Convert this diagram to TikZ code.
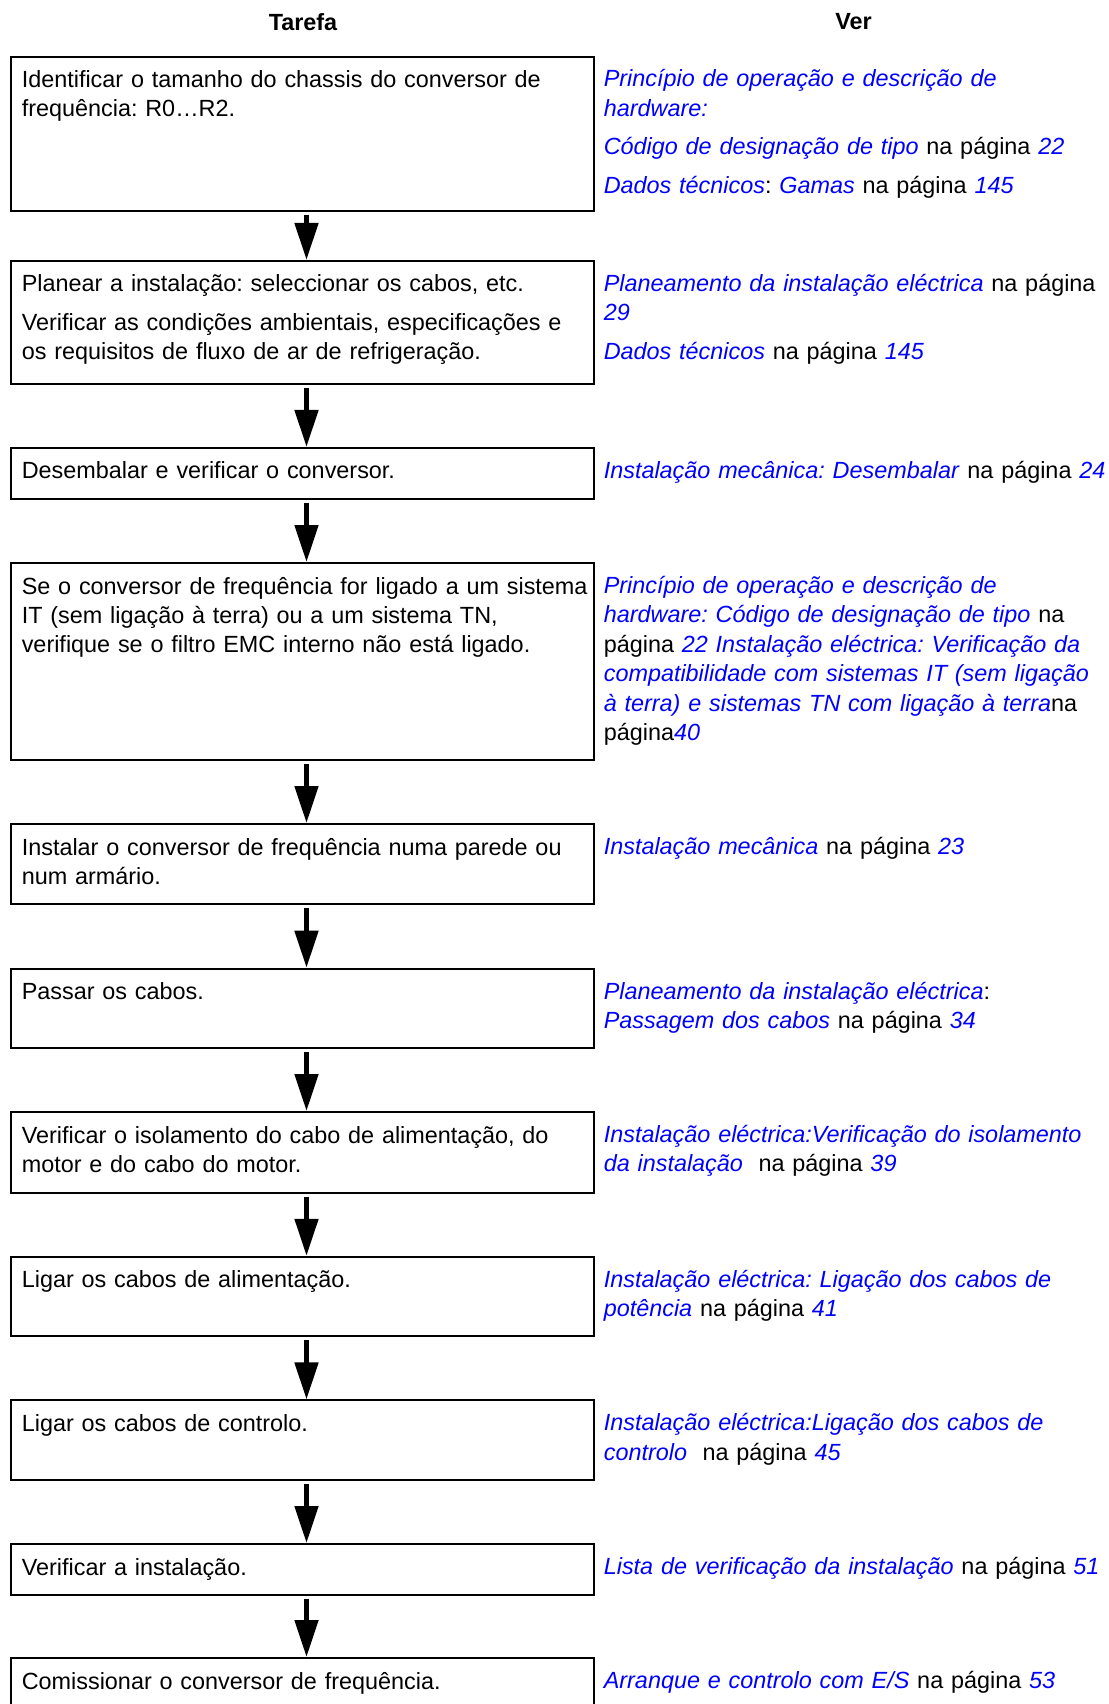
\documentclass[tikz,border=0pt]{standalone}
\usepackage{fontspec}
\setmainfont{Liberation Sans}
\usetikzlibrary{arrows.meta}
\definecolor{refblue}{RGB}{0,0,255}
\newcommand{\lk}[1]{\textcolor{refblue}{\textit{#1}}}
\frenchspacing
\hyphenpenalty=10000

\begin{document}
\begin{tikzpicture}[x=0.5pt, y=-0.5pt,
  every node/.style={font=\fontsize{11.7}{14.7}\selectfont},
  tarefa/.style={draw, line width=1pt, anchor=north west, inner xsep=5.5pt, inner ysep=0pt,
    text width=280.4pt, align=left, text height=15.5pt, text depth=#1},
  ver/.style={anchor=north west, inner sep=0pt, text width=270pt, align=left, text height=15.5pt},
  seta/.style={line width=2.5pt, -{Triangle[length=18.5pt, width=11.5pt]}, shorten <=1.5pt}]
\useasboundingbox (0,0) rectangle (1109,1704);

\node[font=\fontsize{11.7}{14.7}\selectfont\bfseries] (hTarefa) at (303,21.7) {Tarefa};
\node[font=\fontsize{11.7}{14.7}\selectfont\bfseries] (hVer) at (853.5,21.7) {Ver};

% coluna da esquerda
\node[tarefa=61.7pt] (t1) at (9.8,55.5) {Identificar o tamanho do chassis do conversor de\\ frequência: R0…R2.};
\node[tarefa=45.9pt] (t2) at (9.8,259.9) {Planear a instalação: seleccionar os cabos, etc.\\[4.5pt]
  Verificar as condições ambientais, especificações e\\ os requisitos de fluxo de ar de refrigeração.};
\node[tarefa=10.05pt] (t3) at (9.8,446.9) {Desembalar e verificar o conversor.};
\node[tarefa=83pt] (t4) at (9.8,562) {\mbox{Se o conversor de frequência for ligado a um sistema}\\
  IT (sem ligação à terra) ou a um sistema TN,\\ verifique se o filtro EMC interno não está ligado.};
\node[tarefa=24.25pt] (t5) at (9.8,823) {Instalar o conversor de frequência numa parede ou\\ num armário.};
\node[tarefa=24.15pt] (t6) at (9.8,967.7) {Passar os cabos.};
\node[tarefa=24.85pt] (t7) at (9.8,1111) {Verificar o isolamento do cabo de alimentação, do\\ motor e do cabo do motor.};
\node[tarefa=24.2pt] (t8) at (9.8,1255.8) {Ligar os cabos de alimentação.};
\node[tarefa=24.15pt] (t9) at (9.8,1399.4) {Ligar os cabos de controlo.};
\node[tarefa=10pt] (t10) at (9.8,1543) {Verificar a instalação.};
\node[tarefa=40pt] (t11) at (9.8,1657) {Comissionar o conversor de frequência.};

% coluna da direita
\node[ver] (v1) at (603.4,55.5) {\lk{Princípio de operação e descrição de}\\ \lk{hardware:}\\[4.5pt]
  \lk{Código de designação de tipo} na página \lk{22}\\[4.5pt]
  \lk{Dados técnicos}: \lk{Gamas} na página \lk{145}};
\node[ver] (v2) at (603.4,259.9) {\lk{Planeamento da instalação eléctrica} na página\\ \lk{29}\\[4.5pt]
  \lk{Dados técnicos} na página \lk{145}};
\node[ver] (v3) at (603.4,446.9) {\lk{Instalação mecânica: Desembalar} na página \lk{24}};
\node[ver] (v4) at (603.4,562) {\lk{Princípio de operação e descrição de}\\
  \lk{hardware: Código de designação de tipo} na\\
  página \lk{22 Instalação eléctrica: Verificação da}\\
  \lk{compatibilidade com sistemas IT (sem ligação}\\
  \lk{à terra) e sistemas TN com ligação à terra}na\\
  página\lk{40}};
\node[ver] (v5) at (603.4,823) {\lk{Instalação mecânica} na página \lk{23}};
\node[ver] (v6) at (603.4,967.7) {\lk{Planeamento da instalação eléctrica}:\\ \lk{Passagem dos cabos} na página \lk{34}};
\node[ver] (v7) at (603.4,1111) {\lk{Instalação eléctrica:Verificação do isolamento}\\ \lk{da instalação}~ na página \lk{39}};
\node[ver] (v8) at (603.4,1255.8) {\lk{Instalação eléctrica: Ligação dos cabos de}\\ \lk{potência} na página \lk{41}};
\node[ver] (v9) at (603.4,1399.4) {\lk{Instalação eléctrica:Ligação dos cabos de}\\ \lk{controlo}~ na página \lk{45}};
\node[ver] (v10) at (603.4,1543) {\lk{Lista de verificação da instalação} na página \lk{51}};
\node[ver] (v11) at (603.4,1657) {\lk{Arranque e controlo com E/S} na página \lk{53}};

\foreach \a/\b in {t1/t2,t2/t3,t3/t4,t4/t5,t5/t6,t6/t7,t7/t8,t8/t9,t9/t10,t10/t11}
  \draw[seta] ([xshift=2.15pt]\a.south) -- ([xshift=2.15pt]\b.north);
\end{tikzpicture}
\end{document}
